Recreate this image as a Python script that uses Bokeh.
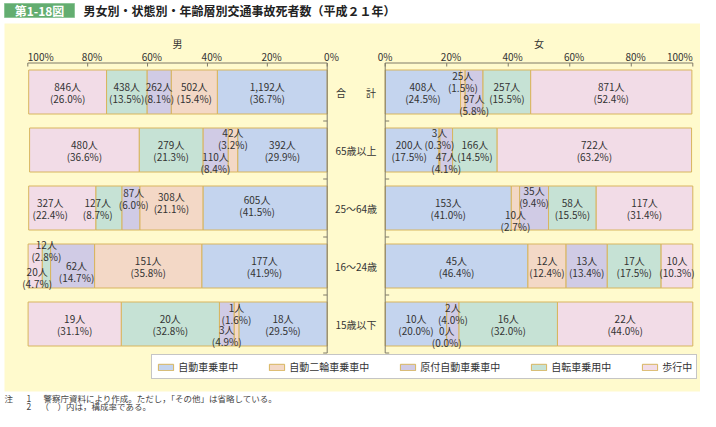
import numpy as np
from bokeh.plotting import figure
from bokeh.models import Range1d, ColumnDataSource, Legend, LegendItem
from bokeh.core.properties import value
from bokeh.embed import file_html
from bokeh.resources import INLINE

# ---------------- data ----------------
age_groups = ["合　　計", "65歳以上", "25～64歳", "16～24歳", "15歳以下"]
modes = ["自動車乗車中", "自動二輪車乗車中", "原付自動車乗車中", "自転車乗用中", "歩行中"]

male_car = [1192, 392, 605, 177, 18]
male_car_pct = [36.7, 29.9, 41.5, 41.9, 29.5]
male_moto = [502, 42, 308, 151, 1]
male_moto_pct = [15.4, 3.2, 21.1, 35.8, 1.6]
male_moped = [262, 110, 87, 62, 3]
male_moped_pct = [8.1, 8.4, 6.0, 14.7, 4.9]
male_bike = [438, 279, 127, 12, 20]
male_bike_pct = [13.5, 21.3, 8.7, 2.8, 32.8]
male_walk = [846, 480, 327, 20, 19]
male_walk_pct = [26.0, 36.6, 22.4, 4.7, 31.1]

female_car = [408, 200, 153, 45, 10]
female_car_pct = [24.5, 17.5, 41.0, 46.4, 20.0]
female_moto = [25, 3, 10, 12, 0]
female_moto_pct = [1.5, 0.3, 2.7, 12.4, 0.0]
female_moped = [97, 47, 35, 13, 2]
female_moped_pct = [5.8, 4.1, 9.4, 13.4, 4.0]
female_bike = [257, 166, 58, 17, 16]
female_bike_pct = [15.5, 14.5, 15.5, 17.5, 32.0]
female_walk = [871, 722, 117, 10, 22]
female_walk_pct = [52.4, 63.2, 31.4, 10.3, 44.0]

tick_values = [0, 20, 40, 60, 80, 100]
tick_labels = ["0%", "20%", "40%", "60%", "80%", "100%"]

title_tag = "第1-18図"
title_text = "男女別・状態別・年齢層別交通事故死者数（平成２１年）"
male_title = "男"
female_title = "女"
note_lines = [("注", "1", "警察庁資料により作成。ただし，「その他」は省略している。"),
              ("", "2", "（　）内は，構成率である。")]

# ---------------- layout / style ----------------
W, H = 700, 411
OFF = 0  # figure origin in the picture
MAL_X100, MAL_X0 = 27.3, 326.7
FEM_X0, FEM_X100 = 384.7, 692.3
KM = (MAL_X0 - MAL_X100) / 100.0
KF = (FEM_X100 - FEM_X0) / 100.0
ROW_C0 = 91.5
ROW_H = 58.0
BAR_H = 44.0

colors = ["#C4D4EE", "#F3D8C6", "#D0CBE5", "#C6E2D5", "#F2DCE7"]
BORDER = "#D8B55E"
CREAM = "#FFFACD"
AXIS = "#7F7A68"
TXT = "#333333"
FONT = value("Noto Sans CJK JP")


def ydat(Y):
    return (Y - ROW_C0) / ROW_H


def xfem(X):
    return (X - FEM_X0) / KF


def xmal(X):
    return (MAL_X0 - X) / KM


male_range = Range1d(start=xmal(OFF), end=xmal(OFF + W))
fem_range = Range1d(start=xfem(OFF), end=xfem(OFF + W))
y_range = Range1d(start=ydat(OFF + H), end=ydat(OFF))

p = figure(width=W, height=H, x_range=fem_range, y_range=y_range,
           output_backend="svg", toolbar_location=None,
           x_axis_location=None, y_axis_location=None,
           min_border=0, outline_line_color=None, title=None)
p.extra_x_ranges = {"male": male_range}
p.background_fill_color = "white"
p.border_fill_color = "white"
p.xgrid.visible = False
p.ygrid.visible = False

# cream panel
p.quad(left=[xfem(4)], right=[xfem(712)], top=[ydat(23)], bottom=[ydat(391)],
       fill_color=CREAM, line_color=None)

# title
p.quad(left=[xfem(4)], right=[xfem(74)], top=[ydat(3)], bottom=[ydat(17)],
       fill_color="#63AD70", line_color="#8CC596", line_width=1)
p.text(x=[xfem(39)], y=[ydat(10.3)], text=[title_tag], text_font=FONT,
       text_font_size="12px", text_font_style="bold", text_color="white",
       text_align="center", text_baseline="middle")
p.text(x=[xfem(83)], y=[ydat(10.3)], text=[title_text], text_font=FONT,
       text_font_size="12px", text_font_style="bold", text_color="#222222",
       text_align="left", text_baseline="middle")

rows = np.arange(len(age_groups))

male_counts = [male_car, male_moto, male_moped, male_bike, male_walk]
male_pcts = [male_car_pct, male_moto_pct, male_moped_pct, male_bike_pct, male_walk_pct]
female_counts = [female_car, female_moto, female_moped, female_bike, female_walk]
female_pcts = [female_car_pct, female_moto_pct, female_moped_pct, female_bike_pct, female_walk_pct]

# label displacement in pixels (dx right, dy down) for crowded segments
male_offsets = {(0, 0): (-5, 0), (2, 0): (-8, -3),
                (1, 1): (0, -12), (1, 2): (0, 12),
                (2, 1): (0, -6), (2, 2): (3, -10), (2, 3): (-11, 0), (2, 4): (-12, 0),
                (3, 2): (4, 5), (3, 3): (0, -16), (3, 4): (2, 11),
                (4, 1): (0, -11), (4, 2): (0, 11)}
female_offsets = {(0, 1): (0, -11), (0, 2): (0, 12),
                  (1, 0): (-3, 0), (1, 1): (0, -12), (1, 2): (0, 12),
                  (2, 1): (0, 12), (2, 2): (0, -11.5),
                  (4, 1): (0, 12), (4, 2): (0, -10.5)}

LINE = 6.0


def draw_side(counts, pcts, range_name, k, direction, offsets):
    cum = np.zeros(len(rows))
    rends = []
    lx, ly1, ly2, t1, t2 = [], [], [], [], []
    kw = {"x_range_name": range_name} if range_name else {}
    for j in range(len(modes)):
        left = cum.copy()
        right = cum + np.array(pcts[j], dtype=float)
        cum = right
        src = ColumnDataSource(dict(y=rows, left=left, right=right))
        r = p.hbar(y="y", left="left", right="right", height=BAR_H / ROW_H, source=src,
                   fill_color=colors[j], line_color=BORDER, line_width=1, **kw)
        rends.append(r)
        for i in rows:
            dx, dy = offsets.get((int(i), j), (0, 0))
            cx = (left[i] + right[i]) / 2.0 + direction * dx / k
            lx.append(cx)
            ly1.append(i + (dy - LINE) / ROW_H)
            ly2.append(i + (dy + LINE) / ROW_H)
            t1.append(f"{counts[j][i]:,}人")
            t2.append(f"({pcts[j][i]:.1f}%)")
    common = dict(text_font=FONT, text_font_size="10px", text_color=TXT,
                  text_align="center", text_baseline="middle", **kw)
    p.text(x=lx, y=ly1, text=t1, **common)
    p.text(x=lx, y=ly2, text=t2, **common)
    return rends


male_rends = draw_side(male_counts, male_pcts, "male", KM, -1, male_offsets)
female_rends = draw_side(female_counts, female_pcts, None, KF, 1, female_offsets)

# axes (drawn from tick values)
top = -0.5
bottom = len(rows) - 0.5
tick_len = 3.5 / ROW_H
for name, k in (("male", KM), (None, KF)):
    kw = {"x_range_name": name} if name else {}
    p.segment(x0=[0], y0=[top], x1=[100], y1=[top], line_color=AXIS, line_width=1, **kw)
    p.segment(x0=tick_values, y0=[top] * len(tick_values), x1=tick_values,
              y1=[top + tick_len] * len(tick_values), line_color=AXIS, line_width=1, **kw)
    p.segment(x0=[0], y0=[top], x1=[0], y1=[bottom], line_color=AXIS, line_width=1, **kw)
    bnds = list(np.arange(len(rows)) + 0.5)
    p.segment(x0=[0] * len(bnds), y0=bnds, x1=[4.0 / k] * len(bnds), y1=bnds,
              line_color=AXIS, line_width=1, **kw)

tick_y = ydat(55.8)
lab_kw = dict(text_font=FONT, text_font_size="10px", text_color=TXT, text_baseline="middle")
# male tick labels
mid = [i for i, v in enumerate(tick_values) if v != 100]
p.text(x=[tick_values[i] for i in mid], y=[tick_y] * len(mid), text=[tick_labels[i] for i in mid],
       text_align="center", x_offset=4.3, x_range_name="male", **lab_kw)
p.text(x=[100], y=[tick_y], text=[tick_labels[-1]], text_align="left",
       x_range_name="male", **lab_kw)
# female tick labels
mid = [i for i, v in enumerate(tick_values) if v not in (0, 100)]
p.text(x=[tick_values[i] for i in mid], y=[tick_y] * len(mid), text=[tick_labels[i] for i in mid],
       text_align="center", x_offset=4.3, **lab_kw)
p.text(x=[0], y=[tick_y], text=[tick_labels[0]], text_align="center", **lab_kw)
p.text(x=[100], y=[tick_y], text=[tick_labels[-1]], text_align="right", **lab_kw)

# panel titles
p.text(x=[50], y=[ydat(43.3)], text=[male_title], text_align="center",
       x_range_name="male", **lab_kw)
p.text(x=[50], y=[ydat(43.3)], text=[female_title], text_align="center", **lab_kw)

# category labels
p.text(x=[xfem(355.5)] * len(rows), y=list(rows), text=age_groups, text_align="center", **lab_kw)

# legend
legend = Legend(items=[LegendItem(label=m, renderers=[r]) for m, r in zip(modes, male_rends)],
                orientation="horizontal", location=(151.3 - OFF, OFF + H - 379.3),
                glyph_width=19, glyph_height=8, label_standoff=3, spacing=29,
                padding=4, margin=0, label_height=13,
                label_text_font="Noto Sans CJK JP", label_text_font_size="10px",
                label_text_color=TXT, border_line_color="#8C8C8C", border_line_width=1,
                background_fill_color="white", background_fill_alpha=1.0)
p.add_layout(legend)

# notes (kept inside the 411px-high figure)
note_kw = dict(text_font=FONT, text_font_size="8.5px", text_color="#444444",
               text_baseline="middle", text_align="left")
note_y = [397.5, 405.5]
note_body_x = [43, 40]
for (a, b, c), yy, bx in zip(note_lines, note_y, note_body_x):
    if a:
        p.text(x=[xfem(4)], y=[ydat(yy)], text=[a], **note_kw)
    p.text(x=[xfem(26)], y=[ydat(yy)], text=[b], **note_kw)
    p.text(x=[xfem(bx)], y=[ydat(yy)], text=[c], **note_kw)

open("out.html", "w").write(file_html(p, INLINE))
